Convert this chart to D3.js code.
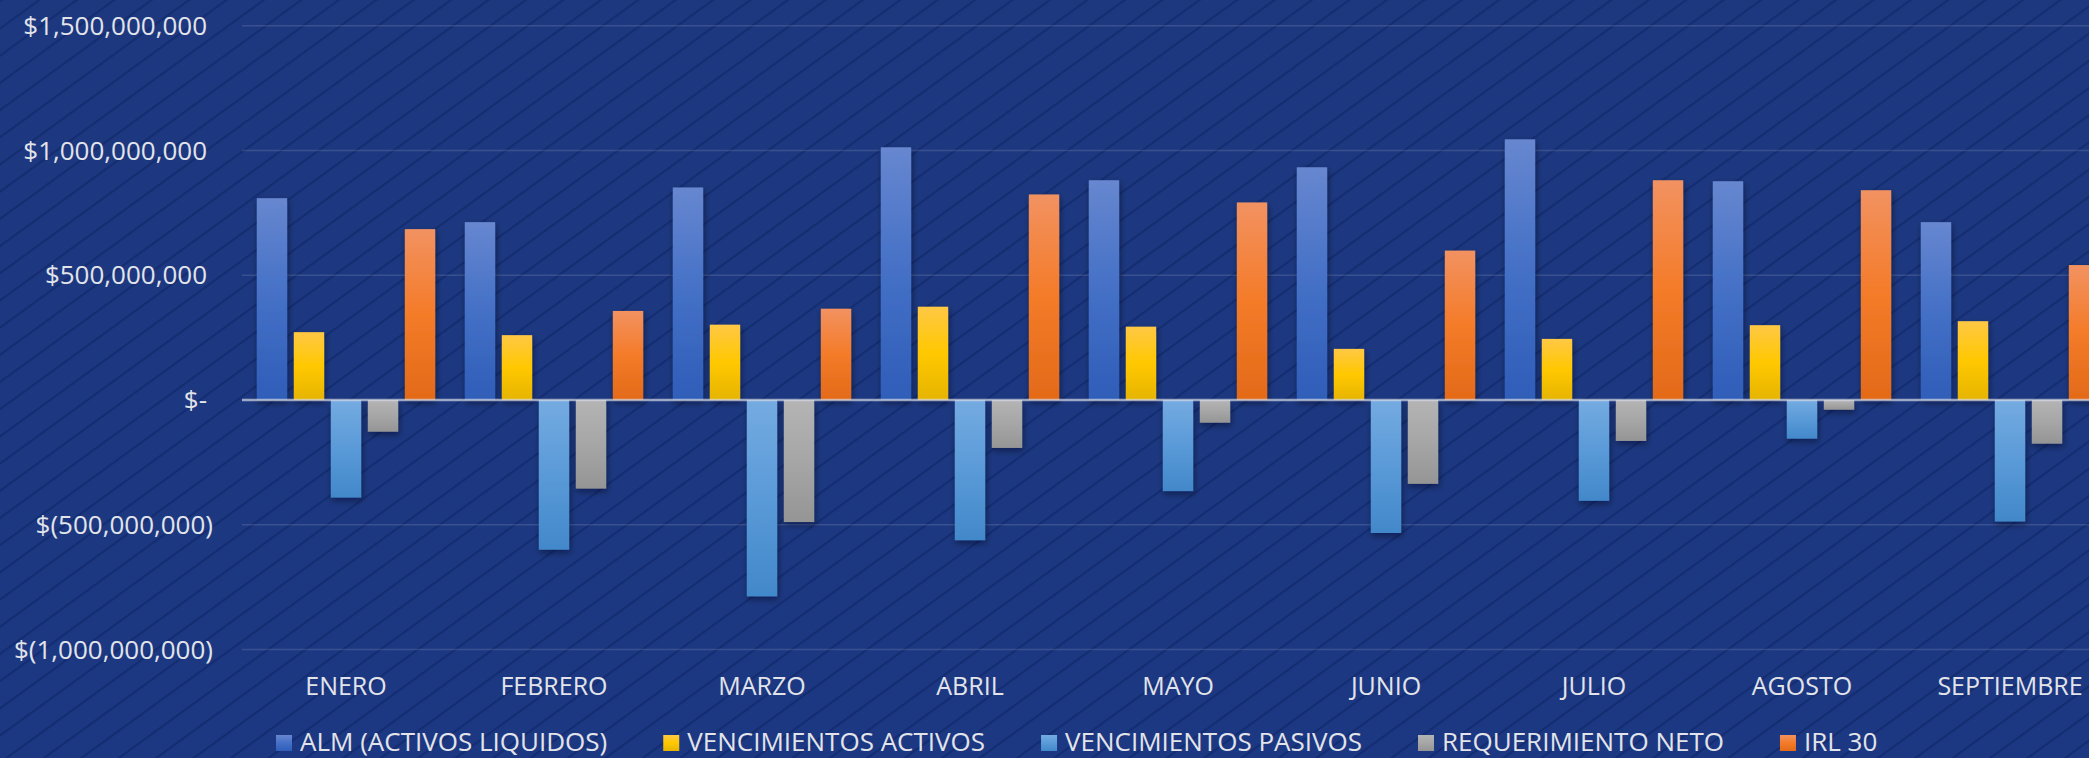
<!DOCTYPE html>
<html>
<head>
<meta charset="utf-8">
<script src="https://cdn.jsdelivr.net/npm/d3@7"></script>
<style>
  html, body { margin: 0; padding: 0; background: #1c3780; overflow: hidden; }
  svg { display: block; }
  text { font-family: "Open Sans", "Noto Sans", sans-serif; fill: #e2e4ea; }
</style>
</head>
<body>
<div id="chart"></div>
<script>
// ---- data ----
const categories = ["ENERO", "FEBRERO", "MARZO", "ABRIL", "MAYO", "JUNIO", "JULIO", "AGOSTO", "SEPTIEMBRE"];
const seriesNames = ["ALM (ACTIVOS LIQUIDOS)", "VENCIMIENTOS ACTIVOS", "VENCIMIENTOS PASIVOS", "REQUERIMIENTO NETO", "IRL 30"];
const almActivosLiquidos = [809e6, 713e6, 852e6, 1013e6, 881e6, 933e6, 1045e6, 877e6, 713e6];
const vencimientosActivos = [272e6, 260e6, 302e6, 374e6, 294e6, 205e6, 245e6, 300e6, 316e6];
const vencimientosPasivos = [-391e6, -600e6, -787e6, -562e6, -365e6, -533e6, -404e6, -155e6, -487e6];
const requerimientoNeto = [-127e6, -355e6, -489e6, -192e6, -91e6, -336e6, -164e6, -39e6, -175e6];
const irl30 = [685e6, 357e6, 366e6, 824e6, 792e6, 599e6, 881e6, 841e6, 541e6];
const yTicks = [1500e6, 1000e6, 500e6, 0, -500e6, -1000e6];
const yTickLabels = ["$1,500,000,000", "$1,000,000,000", "$500,000,000", "$-", "$(500,000,000)", "$(1,000,000,000)"];

const seriesValues = [almActivosLiquidos, vencimientosActivos, vencimientosPasivos, requerimientoNeto, irl30];
const seriesStops = [
  ["#6787d0", "#4470c6", "#2f5db8"],
  ["#ffc845", "#ffc800", "#e6b400"],
  ["#74abe1", "#5a9ad8", "#4288ca"],
  ["#b4b4b4", "#a6a6a6", "#959595"],
  ["#f29261", "#f47b28", "#e36a18"]
];

// ---- layout ----
const W = 2089, H = 758;
const plotLeft = 242, bandW = 208;
const svg = d3.select("#chart").append("svg").attr("width", W).attr("height", H);
const defs = svg.append("defs");

// background
const bg = defs.append("linearGradient").attr("id", "bg").attr("x1", 0).attr("y1", 0).attr("x2", 0).attr("y2", 1);
bg.append("stop").attr("offset", 0).attr("stop-color", "#1d387f");
bg.append("stop").attr("offset", 1).attr("stop-color", "#1c3882");
const pat = defs.append("pattern").attr("id", "stripes").attr("patternUnits", "userSpaceOnUse")
  .attr("width", 22).attr("height", 22).attr("patternTransform", "rotate(54)");
pat.append("line").attr("x1", 1).attr("y1", 0).attr("x2", 1).attr("y2", 22)
  .attr("stroke", "#0f2668").attr("stroke-opacity", 0.6).attr("stroke-width", 2.4);
svg.append("rect").attr("width", W).attr("height", H).attr("fill", "url(#bg)");
svg.append("rect").attr("width", W).attr("height", H).attr("fill", "url(#stripes)");

// gradients for bars
seriesStops.forEach((st, i) => {
  const g = defs.append("linearGradient").attr("id", "g" + i).attr("x1", 0).attr("y1", 0).attr("x2", 0).attr("y2", 1);
  g.append("stop").attr("offset", 0).attr("stop-color", st[0]);
  g.append("stop").attr("offset", 0.5).attr("stop-color", st[1]);
  g.append("stop").attr("offset", 1).attr("stop-color", st[2]);
});
const f = defs.append("filter").attr("id", "shadow").attr("x", "-30%").attr("y", "-10%").attr("width", "160%").attr("height", "130%");
f.append("feDropShadow").attr("dx", 1).attr("dy", 3).attr("stdDeviation", 3)
  .attr("flood-color", "#000814").attr("flood-opacity", 0.45);

// scales
const x = d3.scaleBand().domain(categories).range([plotLeft, plotLeft + bandW * categories.length]).padding(0);
const xs = d3.scaleBand().domain(d3.range(seriesNames.length)).range([0, x.bandwidth()])
  .paddingInner(0.18).paddingOuter(0.4);
const y = d3.scaleLinear().domain([-1000e6, 1500e6]).range([649.5, 25.8]);

// gridlines
svg.append("g").selectAll("line").data(yTicks.filter(v => v !== 0)).join("line")
  .attr("x1", plotLeft).attr("x2", W)
  .attr("y1", d => y(d)).attr("y2", d => y(d))
  .attr("stroke", "#ffffff").attr("stroke-opacity", 0.13).attr("stroke-width", 1.5);

// y tick labels
svg.append("g").selectAll("text").data(yTicks).join("text")
  .attr("x", (d) => d < 0 ? 213 : 207)
  .attr("y", d => y(d))
  .attr("dy", "0.35em")
  .attr("text-anchor", "end")
  .attr("font-size", 26)
  .text((d, i) => yTickLabels[i]);

// bars
const groups = svg.append("g").selectAll("g").data(seriesValues).join("g")
  .attr("fill", (d, i) => `url(#g${i})`)
  .attr("filter", "url(#shadow)");
groups.each(function (vals, si) {
  d3.select(this).selectAll("rect").data(vals).join("rect")
    .attr("x", (v, ci) => x(categories[ci]) + xs(si))
    .attr("width", xs.bandwidth())
    .attr("y", v => y(Math.max(0, v)))
    .attr("height", v => Math.abs(y(v) - y(0)));
});

// zero line
svg.append("line").attr("x1", plotLeft).attr("x2", W).attr("y1", y(0)).attr("y2", y(0))
  .attr("stroke", "#d5dae6").attr("stroke-opacity", 0.7).attr("stroke-width", 2.5);

// x axis labels
svg.append("g").selectAll("text").data(categories).join("text")
  .attr("x", d => x(d) + x.bandwidth() / 2)
  .attr("y", 695)
  .attr("text-anchor", "middle")
  .attr("font-size", 25)
  .text(d => d);

// legend
const legend = svg.append("g");
let lx = 276;
seriesNames.forEach((name, i) => {
  legend.append("rect").attr("x", lx).attr("y", 735).attr("width", 16).attr("height", 16)
    .attr("fill", `url(#g${i})`);
  const t = legend.append("text").attr("x", lx + 24).attr("y", 751).attr("font-size", 26).text(name);
  lx += 24 + t.node().getComputedTextLength() + 56;
});
</script>
</body>
</html>
